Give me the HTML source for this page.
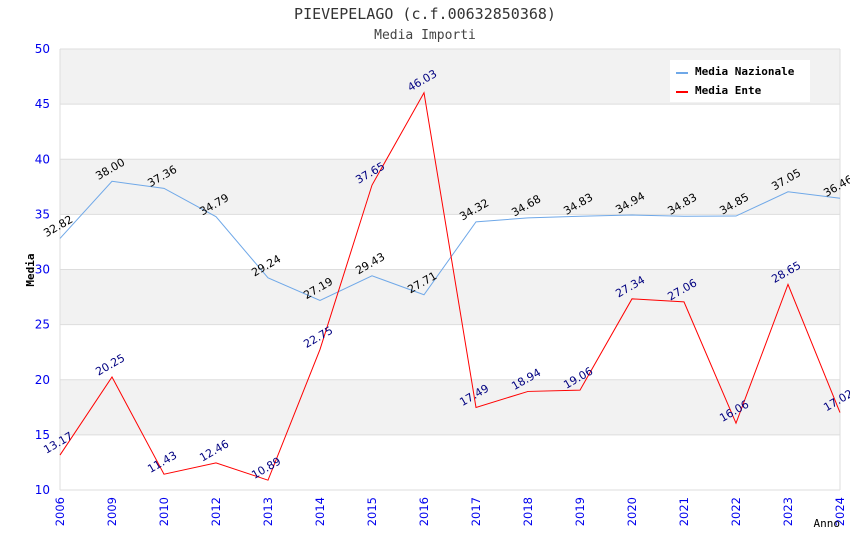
<!DOCTYPE html>
<html><head><meta charset="utf-8"><style>
body{margin:0;background:#fff}
svg{display:block}
</style></head><body>
<svg id="chart" width="850" height="550" xmlns="http://www.w3.org/2000/svg" font-family="DejaVu Sans, Liberation Sans, sans-serif">
<text x="425" y="19" text-anchor="middle" font-family="DejaVu Sans Mono, Liberation Mono, monospace" font-size="15" fill="#333">PIEVEPELAGO (c.f.00632850368)</text>
<text x="425" y="39" text-anchor="middle" font-family="DejaVu Sans Mono, Liberation Mono, monospace" font-size="13" fill="#444">Media Importi</text>
<g id="bands"></g>
<g id="axes"></g>
<g id="series"></g>
<text transform="translate(34,270) rotate(-90)" text-anchor="middle" font-family="DejaVu Sans Mono, Liberation Mono, monospace" font-size="11" font-weight="bold" fill="#000">Media</text>
<text x="840" y="527" text-anchor="end" font-family="DejaVu Sans Mono, Liberation Mono, monospace" font-size="11" fill="#000">Anno</text>
<g>
<rect x="670" y="60" width="140" height="42" fill="#fff"/>
<line x1="676" y1="73" x2="688" y2="73" stroke="#6fa8e8" stroke-width="2"/>
<text x="695" y="75" font-family="DejaVu Sans Mono, Liberation Mono, monospace" font-size="11" font-weight="bold">Media Nazionale</text>
<line x1="676" y1="92" x2="688" y2="92" stroke="#ff0000" stroke-width="2"/>
<text x="695" y="94" font-family="DejaVu Sans Mono, Liberation Mono, monospace" font-size="11" font-weight="bold">Media Ente</text>
</g>
</svg>
<script>
const categories=["2006","2009","2010","2012","2013","2014","2015","2016","2017","2018","2019","2020","2021","2022","2023","2024"];
const nazionale=[32.82,38.00,37.36,34.79,29.24,27.19,29.43,27.71,34.32,34.68,34.83,34.94,34.83,34.85,37.05,36.46];
const ente=[13.17,20.25,11.43,12.46,10.89,22.75,37.65,46.03,17.49,18.94,19.06,27.34,27.06,16.06,28.65,17.02];
const yTicks=[10,15,20,25,30,35,40,45,50];
const NS="http://www.w3.org/2000/svg";
const X0=60,X1=840,Y0=490,Y1=49,YMIN=10,YMAX=50;
function xs(i){return X0+(X1-X0)*i/(categories.length-1);}
function ys(v){return Y0-(v-YMIN)/(YMAX-YMIN)*(Y0-Y1);}
function mk(tag,attrs,parent){const e=document.createElementNS(NS,tag);for(const k in attrs)e.setAttribute(k,attrs[k]);parent.appendChild(e);return e;}
const bands=document.getElementById('bands'),axes=document.getElementById('axes'),series=document.getElementById('series');
for(let k=0;k<yTicks.length-1;k++){
  if((yTicks.length-2-k)%2===0){
    const r=mk('rect',{x:X0,y:ys(yTicks[k+1]),width:X1-X0,height:ys(yTicks[k])-ys(yTicks[k+1]),fill:'#f2f2f2'},bands);
    
    
  }
}
yTicks.forEach(t=>{
  const l=mk('line',{x1:X0,x2:X1,y1:ys(t),y2:ys(t),stroke:'#ddd','stroke-width':1},axes);
  
  
  const tx=mk('text',{x:X0-10,y:ys(t)+4,'text-anchor':'end','font-size':12,fill:'#0000ee'},axes);
  tx.textContent=t;
  
  
});
const ax=mk('line',{x1:X0,x2:X0,y1:Y1,y2:Y0,stroke:'#ddd'},axes);


const ax2=mk('line',{x1:X1,x2:X1,y1:Y1,y2:Y0,stroke:'#ddd'},axes);


categories.forEach((c,i)=>{
  const t=mk('text',{transform:`translate(${xs(i)+4},${Y0+7}) rotate(-90)`,'text-anchor':'end','font-size':11.5,fill:'#0000ee'},axes);
  t.textContent=c;
  
  
});
function drawSeries(vals,color,labelColor,name){
  const p=mk('polyline',{points:vals.map((v,i)=>xs(i)+','+ys(v)).join(' '),fill:'none',stroke:color,'stroke-width':1},series);
  
  
  vals.forEach((v,i)=>{
    const t=mk('text',{transform:`translate(${xs(i)},${ys(v)-9}) rotate(-30)`,'text-anchor':'middle','font-size':11,fill:labelColor},series);
    t.textContent=v.toFixed(2);
    
    
  });
}
drawSeries(nazionale,'#6fa8e8','#000','nazionale');
drawSeries(ente,'#ff0000','#000080','ente');
</script>
</body></html>
